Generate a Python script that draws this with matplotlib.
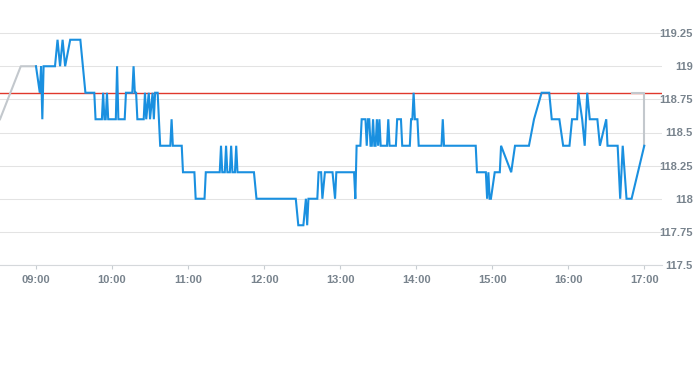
import numpy as np
import pandas as pd
import matplotlib
matplotlib.use("Agg")
import matplotlib.pyplot as plt
import matplotlib.dates as mdates

day = "2024-01-02 "

# intraday price (blue)
price_times = [
    "09:00", "09:03", "09:04", "09:05", "09:06", "09:15", "09:17", "09:19", "09:21", "09:23",
    "09:27", "09:35", "09:37", "09:39", "09:46", "09:47", "09:52", "09:53", "09:54", "09:55",
    "09:56", "09:57", "10:03", "10:04", "10:05", "10:10", "10:11", "10:16", "10:17", "10:18",
    "10:19", "10:20", "10:25", "10:26", "10:27", "10:29", "10:30", "10:32", "10:33", "10:34",
    "10:36", "10:38", "10:46", "10:47", "10:48", "10:55", "10:56", "11:05", "11:06", "11:13",
    "11:14", "11:25", "11:26", "11:27", "11:29", "11:30", "11:31", "11:33", "11:34", "11:35",
    "11:37", "11:38", "11:39", "11:52", "11:54", "12:25", "12:27", "12:31", "12:33", "12:34",
    "12:35", "12:42", "12:43", "12:45", "12:46", "12:48", "12:54", "12:56", "12:57", "13:11",
    "13:12", "13:13", "13:16", "13:17", "13:20", "13:21", "13:22", "13:23", "13:24", "13:25",
    "13:26", "13:27", "13:28", "13:29", "13:30", "13:31", "13:32", "13:37", "13:38", "13:39",
    "13:44", "13:45", "13:48", "13:49", "13:55", "13:56", "13:57", "13:58", "13:59", "14:01",
    "14:02", "14:20", "14:21", "14:22", "14:47", "14:48", "14:55", "14:56", "14:57", "14:58",
    "14:59", "15:02", "15:06", "15:07", "15:15", "15:18", "15:29", "15:33", "15:39", "15:45",
    "15:47", "15:53", "15:56", "16:01", "16:03", "16:07", "16:08", "16:11", "16:13", "16:15",
    "16:17", "16:23", "16:25", "16:30", "16:31", "16:39", "16:41", "16:43", "16:46", "16:50",
    "17:00",
]
price_values = [
    119.0, 118.8, 119.0, 118.6, 119.0, 119.0, 119.2, 119.0, 119.2, 119.0,
    119.2, 119.2, 119.0, 118.8, 118.8, 118.6, 118.6, 118.8, 118.6, 118.6,
    118.8, 118.6, 118.6, 119.0, 118.6, 118.6, 118.8, 118.8, 119.0, 118.8,
    118.8, 118.6, 118.6, 118.8, 118.6, 118.8, 118.6, 118.8, 118.6, 118.8,
    118.8, 118.4, 118.4, 118.6, 118.4, 118.4, 118.2, 118.2, 118.0, 118.0,
    118.2, 118.2, 118.4, 118.2, 118.2, 118.4, 118.2, 118.2, 118.4, 118.2,
    118.2, 118.4, 118.2, 118.2, 118.0, 118.0, 117.8, 117.8, 118.0, 117.8,
    118.0, 118.0, 118.2, 118.2, 118.0, 118.2, 118.2, 118.0, 118.2, 118.2,
    118.0, 118.4, 118.4, 118.6, 118.6, 118.4, 118.6, 118.6, 118.4, 118.4,
    118.6, 118.4, 118.4, 118.6, 118.4, 118.6, 118.4, 118.4, 118.6, 118.4,
    118.4, 118.6, 118.6, 118.4, 118.4, 118.6, 118.6, 118.8, 118.6, 118.6,
    118.4, 118.4, 118.6, 118.4, 118.4, 118.2, 118.2, 118.0, 118.2, 118.0,
    118.0, 118.2, 118.2, 118.4, 118.2, 118.4, 118.4, 118.6, 118.8, 118.8,
    118.6, 118.6, 118.4, 118.4, 118.6, 118.6, 118.8, 118.6, 118.4, 118.8,
    118.6, 118.6, 118.4, 118.6, 118.4, 118.4, 118.0, 118.4, 118.0, 118.0,
    118.4,
]

# pre / post session (grey)
pre_times = ["08:31:36", "08:48:00", "09:00:00"]
pre_values = [118.6, 119.0, 119.0]
post_times = ["16:50:30", "17:00:00", "17:00:00"]
post_values = [118.8, 118.8, 118.4]

ref_price = 118.8
y_ticks = [117.5, 117.75, 118, 118.25, 118.5, 118.75, 119, 119.25]
y_labels = ["117.5", "117.75", "118", "118.25", "118.5", "118.75", "119", "119.25"]


def to_dt(ts):
    return pd.to_datetime([day + t for t in ts], format="mixed")


plt.rcParams['font.family'] = ['Liberation Sans', 'DejaVu Sans']
label_col = "#78838d"

fig = plt.figure(figsize=(6.93, 3.65), dpi=100)
ax = fig.add_axes([0, 100 / 365, 662 / 693, 265 / 365])

ax.axhline(ref_price, color="#e0382c", lw=1.0, zorder=2)
ax.plot(to_dt(pre_times), pre_values, color="#c3c8cd", lw=1.5, zorder=3)
ax.plot(to_dt(post_times), post_values, color="#c3c8cd", lw=1.5, zorder=3)
ax.plot(to_dt(price_times), price_values, color="#1a90e0", lw=1.5, zorder=4,
        solid_joinstyle="miter")

ax.set_xlim(pd.Timestamp(day + "08:31:36"), pd.Timestamp(day + "17:14:00"))
ax.set_ylim(117.5, 119.5)

ax.set_yticks(y_ticks)
ax.set_yticklabels(y_labels)
ax.yaxis.tick_right()
ax.tick_params(axis="y", length=0, pad=22.3, labelsize=8, labelcolor=label_col)
for lab in ax.get_yticklabels():
    lab.set_horizontalalignment("right")
    lab.set_fontweight("semibold")

ax.xaxis.set_major_locator(mdates.HourLocator(byhour=range(9, 18)))
ax.xaxis.set_major_formatter(mdates.DateFormatter("%H:%M"))
ax.tick_params(axis="x", length=3, width=0.8, color="#c8cdd2", pad=4,
               labelsize=8, labelcolor=label_col)
for lab in ax.get_xticklabels():
    lab.set_fontweight("semibold")

ax.grid(axis="y", color="#e3e3e3", lw=0.75, zorder=0)
for s in ["top", "left", "right"]:
    ax.spines[s].set_visible(False)
ax.spines["bottom"].set_color("#d5d8db")
ax.spines["bottom"].set_linewidth(0.8)

fig.savefig("out.png", dpi=100)
